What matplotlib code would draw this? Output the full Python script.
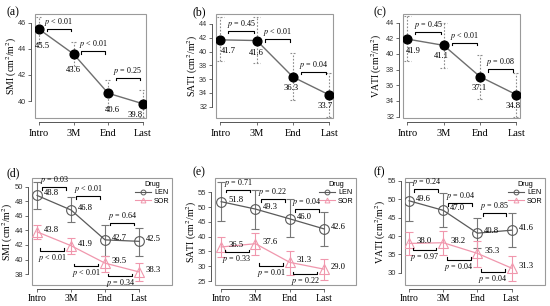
import numpy as np
import matplotlib
matplotlib.use("Agg")
import matplotlib.pyplot as plt
from matplotlib.patches import Rectangle
from matplotlib.lines import Line2D

plt.rcParams["mathtext.fontset"] = "stix"
SERIF = "Liberation Serif"
SANS = "Liberation Sans"
W, H = 550, 306

PHASES = ["Intro", "3M", "End", "Last"]

# ---- top row: all patients (mean, lower, upper) ----
SMI_ALL = [45.5, 43.6, 40.6, 39.8]
SMI_ALL_LO = [44.45, 42.65, 39.55, 38.75]
SMI_ALL_HI = [46.45, 44.5, 41.65, 40.85]
SATI_ALL = [41.7, 41.6, 36.3, 33.7]
SATI_ALL_LO = [38.6, 38.4, 32.9, 30.5]
SATI_ALL_HI = [45.0, 45.0, 39.8, 36.9]
VATI_ALL = [41.9, 41.1, 37.1, 34.8]
VATI_ALL_LO = [39.1, 38.2, 34.3, 31.9]
VATI_ALL_HI = [44.8, 43.9, 39.9, 37.6]
P_SMI_ALL = ["< 0.01", "< 0.01", "= 0.25"]
P_SATI_ALL = ["= 0.45", "< 0.01", "= 0.04"]
P_VATI_ALL = ["= 0.45", "< 0.01", "= 0.08"]

# ---- bottom row: by drug ----
SMI_LEN = [48.8, 46.8, 42.7, 42.5]
SMI_LEN_LO = [46.9, 45.2, 40.5, 40.5]
SMI_LEN_HI = [50.7, 48.6, 44.8, 44.3]
SMI_SOR = [43.8, 41.9, 39.5, 38.3]
SMI_SOR_LO = [42.8, 40.8, 38.3, 37.1]
SMI_SOR_HI = [44.8, 43.0, 40.5, 39.5]
SATI_LEN = [51.8, 49.3, 46.0, 42.6]
SATI_LEN_LO = [45.4, 42.6, 39.7, 36.7]
SATI_LEN_HI = [58.6, 55.8, 52.6, 48.4]
SATI_SOR = [36.5, 37.6, 31.3, 29.0]
SATI_SOR_LO = [33.0, 33.8, 27.0, 25.5]
SATI_SOR_HI = [39.8, 41.3, 35.3, 32.4]
VATI_LEN = [49.6, 47.0, 40.8, 41.6]
VATI_LEN_LO = [44.1, 42.6, 36.8, 37.0]
VATI_LEN_HI = [54.8, 51.6, 44.8, 46.2]
VATI_SOR = [38.0, 38.2, 35.3, 31.3]
VATI_SOR_LO = [34.8, 34.8, 31.7, 27.8]
VATI_SOR_HI = [41.2, 41.5, 38.8, 34.6]
P_SMI_LEN = ["= 0.03", "< 0.01", "= 0.64"]
P_SMI_SOR = ["< 0.01", "< 0.01", "= 0.34"]
P_SATI_LEN = ["= 0.71", "= 0.22", "= 0.04"]
P_SATI_SOR = ["= 0.33", "= 0.01", "= 0.22"]
P_VATI_LEN = ["= 0.24", "= 0.04", "= 0.85"]
P_VATI_SOR = ["= 0.97", "= 0.04", "= 0.04"]

FRAME = "#9a9a9a"
AXC = "#555555"
LENC = "#5a5a5a"
SORC = "#f097ad"
x = np.arange(1, 5)


def add_axes(box):
    l, r, t, b = box
    return fig.add_axes([l / W, 1 - b / H, (r - l) / W, (b - t) / H])


def style(ax, box, xlim, ylim, yticks, xfs, yfs, xpad, ylabel, ylab_x, letter, letter_xy):
    ax.set_xlim(*xlim); ax.set_ylim(*ylim)
    for s in ("top", "right"):
        ax.spines[s].set_visible(False)
    for s in ("left", "bottom"):
        ax.spines[s].set_position(("outward", 3))
        ax.spines[s].set_color(AXC); ax.spines[s].set_linewidth(0.7)
    ax.spines["left"].set_bounds(yticks[0], yticks[-1])
    ax.spines["bottom"].set_bounds(1, 4)
    ax.set_xticks(x, PHASES)
    ax.set_yticks(yticks)
    for t in ax.get_xticklabels():
        t.set_fontfamily(SERIF); t.set_fontsize(xfs)
    for t in ax.get_yticklabels():
        t.set_fontfamily(SANS); t.set_fontsize(yfs); t.set_color("#333333")
    ax.tick_params(length=2.2, width=0.6, color=AXC, pad=1.0)
    ax.tick_params(axis="x", pad=xpad)
    ax.add_patch(Rectangle((0, 0), 1, 1, transform=ax.transAxes, fill=False,
                           ec=FRAME, lw=0.8, clip_on=False, zorder=0))
    l, r, t, b = box
    ax.set_ylabel(ylabel, fontfamily=SERIF, fontsize=7)
    ax.yaxis.label.set_va("center")
    ax.yaxis.set_label_coords(-(l - ylab_x) / (r - l), 0.5)
    fig.text(letter_xy[0] / W, 1 - letter_xy[1] / H, letter, fontfamily=SERIF,
             fontsize=8.5, va="center", ha="left")


def ppu(box, ylim):
    return (box[3] - box[2]) / (ylim[1] - ylim[0])


def bracket(ax, i, y, ptxt, up, k, x0=0.18, x1=0.88, fs=5.8):
    h = 2.5 / k
    a, b = i + x0, i + x1
    if up:
        ax.plot([a, a, b, b], [y + h, y, y, y + h], color="black", lw=0.8, zorder=5)
        ax.text((a + b) / 2, y - 1.0 / k, r"$p$ " + ptxt, ha="center", va="top",
                fontfamily=SERIF, fontsize=fs, zorder=6)
    else:
        ax.plot([a, a, b, b], [y - h, y, y, y - h], color="black", lw=0.8, zorder=5)
        ax.text((a + b) / 2, y + 1.0 / k, r"$p$ " + ptxt, ha="center", va="bottom",
                fontfamily=SERIF, fontsize=fs, zorder=6)


fig = plt.figure(figsize=(W / 100, H / 100), dpi=100)

# ---------------- top row ----------------
top = [
    dict(box=(35, 146, 14, 118), ylim=(38.7, 46.67), yticks=[40, 42, 44, 46],
         m=SMI_ALL, lo=SMI_ALL_LO, hi=SMI_ALL_HI, p=P_SMI_ALL, py=[45.55, 43.8, 41.8],
         lab="SMI (cm$^2$/m$^2$)", labx=12, letter="(a)", lxy=(6, 12),
         dx=[3, 0, 4, -7], dy=[-16.5, -16, -16.5, -11.5]),
    dict(box=(216, 333, 14, 118), ylim=(30.36, 45.45), yticks=[32, 34, 36, 38, 40, 42, 44],
         m=SATI_ALL, lo=SATI_ALL_LO, hi=SATI_ALL_HI, p=P_SATI_ALL, py=[43.0, 41.8, 37.1],
         lab="SATI (cm$^2$/m$^2$)", labx=192.5, letter="(b)", lxy=(192, 12),
         dx=[8, 0, -1.5, -4], dy=[-11, -12, -11, -11]),
    dict(box=(403, 520, 14, 118), ylim=(31.83, 45.1), yticks=[32, 34, 36, 38, 40, 42, 44],
         m=VATI_ALL, lo=VATI_ALL_LO, hi=VATI_ALL_HI, p=P_VATI_ALL, py=[42.85, 41.45, 38.05],
         lab="VATI (cm$^2$/m$^2$)", labx=376.5, letter="(c)", lxy=(373, 12),
         dx=[6, -2, -0.5, -3.5], dy=[-11.5, -11, -11, -11.5]),
]

for P in top:
    ax = add_axes(P["box"])
    style(ax, P["box"], (0.88, 4.1), P["ylim"], P["yticks"], 7.5, 5.2, 2.5,
          P["lab"], P["labx"], P["letter"], P["lxy"])
    k = ppu(P["box"], P["ylim"])
    m = np.array(P["m"]); lo = np.array(P["lo"]); hi = np.array(P["hi"])
    ax.vlines(x, lo, hi, color="#8c8c8c", lw=0.8, linestyles=(0, (1.5, 1.5)), zorder=2)
    ax.hlines(np.r_[lo, hi], np.r_[x, x] - 0.09, np.r_[x, x] + 0.09, color="#8c8c8c",
              lw=0.8, linestyles=(0, (1.5, 1.5)), zorder=2)
    ax.plot(x, m, color="#6e6e6e", lw=1.0, zorder=3)
    ax.plot(x, m, "o", color="black", ms=6.3, zorder=4)
    for i in range(4):
        ax.annotate(f"{m[i]:.1f}", (x[i], m[i]), xytext=(P["dx"][i] * 0.72, P["dy"][i] * 0.72),
                    textcoords="offset points", ha="center", va="center",
                    fontfamily=SERIF, fontsize=6.2, zorder=6)
    for i in range(3):
        bracket(ax, x[i], P["py"][i], P["p"][i], False, k, 0.22, 0.92)

# ---------------- bottom row ----------------
bottom = [
    dict(box=(32, 172, 178, 285), ylim=(36.5, 51.2), yticks=[38, 40, 42, 44, 46, 48, 50],
         xl=(0.85, 4.97),
         L=(SMI_LEN, SMI_LEN_LO, SMI_LEN_HI), S=(SMI_SOR, SMI_SOR_LO, SMI_SOR_HI),
         pl=P_SMI_LEN, ps=P_SMI_SOR, ply=[49.9, 48.7, 45.05], psy=[41.2, 39.1, 37.7],
         lab="SMI (cm$^2$/m$^2$)", labx=8, letter="(d)", lxy=(6, 173)),
    dict(box=(215, 356, 178, 285), ylim=(23.65, 59.8), yticks=[25, 30, 35, 40, 45, 50, 55],
         xl=(0.82, 4.93),
         L=(SATI_LEN, SATI_LEN_LO, SATI_LEN_HI), S=(SATI_SOR, SATI_SOR_LO, SATI_SOR_HI),
         pl=P_SATI_LEN, ps=P_SATI_SOR, ply=[55.8, 52.6, 49.3], psy=[34.7, 30.1, 27.3],
         lab="SATI (cm$^2$/m$^2$)", labx=191.5, letter="(e)", lxy=(192, 172)),
    dict(box=(405, 545, 178, 285), ylim=(26.7, 55.8), yticks=[30, 35, 40, 45, 50, 55],
         xl=(0.88, 4.98),
         L=(VATI_LEN, VATI_LEN_LO, VATI_LEN_HI), S=(VATI_SOR, VATI_SOR_LO, VATI_SOR_HI),
         pl=P_VATI_LEN, ps=P_VATI_SOR, ply=[52.7, 48.9, 46.2], psy=[36.2, 33.5, 30.3],
         lab="VATI (cm$^2$/m$^2$)", labx=381, letter="(f)", lxy=(374, 172)),
]

for P in bottom:
    ax = add_axes(P["box"])
    style(ax, P["box"], P["xl"], P["ylim"], P["yticks"], 7, 5.5, 1.0,
          P["lab"], P["labx"], P["letter"], P["lxy"])
    k = ppu(P["box"], P["ylim"])
    for (m, lo, hi), c, mk, ms in ((P["L"], LENC, "o", 7), (P["S"], SORC, "^", 7.5)):
        m = np.array(m); lo = np.array(lo); hi = np.array(hi)
        ax.errorbar(x, m, yerr=[m - lo, hi - m], fmt="none", ecolor=c if c == SORC else "#777777",
                    elinewidth=0.8, capsize=3, capthick=0.8, zorder=2)
        ax.plot(x, m, color=c, lw=0.9, zorder=3)
        ax.plot(x, m, mk, mfc="none", mec=c, mew=0.8, ms=ms, zorder=4)
        for i in range(4):
            ax.annotate(f"{m[i]:.1f}", (x[i], m[i]), xytext=(5, 1.5),
                        textcoords="offset points", ha="left", va="center",
                        fontfamily=SERIF, fontsize=6.2, zorder=6)
    for i in range(3):
        bracket(ax, x[i], P["ply"][i], P["pl"][i], False, k, 0.15, 0.85)
        bracket(ax, x[i], P["psy"][i], P["ps"][i], True, k, 0.1, 0.8)
    handles = [Line2D([], [], color=LENC, marker="o", mfc="none", ms=3.5, lw=0.8, mew=0.7),
               Line2D([], [], color=SORC, marker="^", mfc="none", ms=3.5, lw=0.8, mew=0.7)]
    leg = ax.legend(handles, ["LEN", "SOR"], title="Drug", loc="upper right",
                    bbox_to_anchor=(1.0, 0.99), frameon=False, fontsize=5.2,
                    title_fontsize=5.2, handlelength=2.2, handletextpad=0.4,
                    labelspacing=0.15, borderpad=0.2, borderaxespad=0.1)
    for t in leg.get_texts():
        t.set_fontfamily(SANS)
    leg.get_title().set_fontfamily(SANS)

fig.savefig("out.png", dpi=100)
